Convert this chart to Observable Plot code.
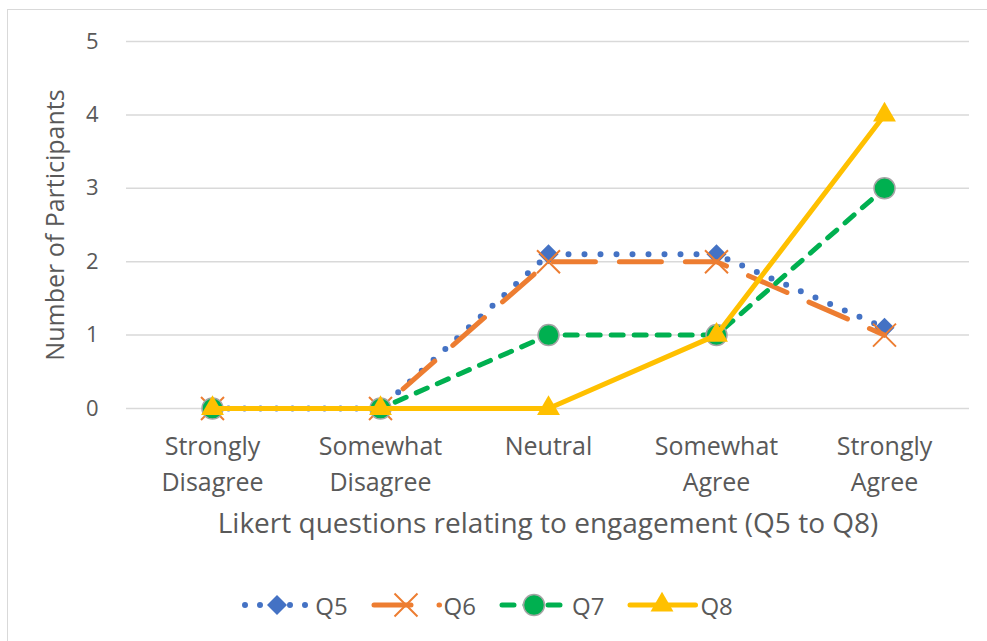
<!DOCTYPE html>
<html>
<head>
<meta charset="utf-8">
<script src="https://cdn.jsdelivr.net/npm/d3@7"></script>
<script src="https://cdn.jsdelivr.net/npm/@observablehq/plot@0.6"></script>
<style>
  html, body { margin: 0; padding: 0; background: #fff; width: 987px; height: 641px; overflow: hidden; }
  body { font-family: "Open Sans", "DejaVu Sans", sans-serif; color: #595959; position: relative; }
  #frame { position: absolute; left: 7px; top: 9px; width: 1000px; height: 700px; border: 1.5px solid #d9d9d9; box-sizing: border-box; pointer-events: none; }
  #chart { position: absolute; left: 0; top: 0; }
  #legend { position: absolute; left: 0; top: 585px; width: 987px; height: 40px; display: flex; justify-content: center; align-items: center; gap: 23px; font-size: 24px; padding-right: 12px; box-sizing: border-box; }
  .item { display: flex; align-items: center; gap: 2px; }
  .item svg { display: block; }
</style>
</head>
<body>
<div id="frame"></div>
<div id="chart"></div>
<div id="legend"></div>
<script>
const categories = ["Strongly Disagree", "Somewhat Disagree", "Neutral", "Somewhat Agree", "Strongly Agree"];
const tickLabels = ["Strongly\nDisagree", "Somewhat\nDisagree", "Neutral", "Somewhat\nAgree", "Strongly\nAgree"];
const yTicks = [0, 1, 2, 3, 4, 5];
const seriesNames = ["Q5", "Q6", "Q7", "Q8"];
const Q5 = [0, 0, 2.1, 2.1, 1.1];
const Q6 = [0, 0, 2, 2, 1];
const Q7 = [0, 0, 1, 1, 3];
const Q8 = [0, 0, 0, 1, 4];
const xTitle = "Likert questions relating to engagement (Q5 to Q8)";
const yTitle = "Number of Participants";

const styles = {
  Q5: {color: "#4472C4", width: 6, dash: "0 16", legendDash: "0 15", symbol: "diamond2", r: 9, fill: "#4472C4", stroke: "none", sw: 0},
  Q6: {color: "#ED7D31", width: 5, dash: "42 24", legendDash: "37 28", symbol: "times", r: 10.5, fill: "none", stroke: "#ED7D31", sw: 2},
  Q7: {color: "#00B050", width: 5, dash: "12 11", legendDash: "12 11", symbol: "circle", r: 10.5, fill: "#00B050", stroke: "#A5A5A5", sw: 1.5},
  Q8: {color: "#FFC000", width: 5, dash: null, legendDash: null, symbol: "triangle", r: 8.5, fill: "#FFC000", stroke: "none", sw: 0}
};
const values = {Q5, Q6, Q7, Q8};
const labelOf = new Map(categories.map((c, i) => [c, tickLabels[i]]));

const seriesMarks = seriesNames.flatMap(name => {
  const s = styles[name];
  const data = categories.map((c, i) => ({cat: c, value: values[name][i]}));
  return [
    Plot.line(data, {x: "cat", y: "value", stroke: s.color, strokeWidth: s.width,
      strokeDasharray: s.dash || undefined, strokeLinecap: "round", strokeLinejoin: "round"}),
    Plot.dot(data, {x: "cat", y: "value", symbol: s.symbol, r: s.r,
      fill: s.fill, stroke: s.stroke, strokeWidth: s.sw, fillOpacity: 1, strokeOpacity: 1})
  ];
});

const chart = Plot.plot({
  width: 987, height: 585,
  marginLeft: 126, marginRight: 18, marginTop: 41, marginBottom: 177,
  x: {type: "point", domain: categories, padding: 0.5, axis: null},
  y: {domain: [0, 5], axis: null},
  style: {fontFamily: "'Open Sans', sans-serif", color: "#595959", background: "transparent", overflow: "visible"},
  marks: [
    Plot.gridY(yTicks, {stroke: "#d9d9d9", strokeOpacity: 1, strokeWidth: 1.5}),
    Plot.axisY(yTicks, {tickSize: 0, tickPadding: 28, fontSize: 22, fill: "#595959", tickFormat: d => String(d), label: null}),
    Plot.axisX(categories, {tickSize: 0, tickPadding: 21, fontSize: 25, lineHeight: 1.44, fill: "#595959", tickFormat: d => labelOf.get(d), label: null}),
    Plot.text([xTitle], {frameAnchor: "bottom", dy: 124, fontSize: 28, fill: "#595959"}),
    Plot.text([yTitle], {frameAnchor: "left", dx: -71, rotate: -90, textAnchor: "middle", fontSize: 25, fill: "#595959"}),
    ...seriesMarks
  ]
});
document.getElementById("chart").append(chart);

// Legend
const legend = document.getElementById("legend");
const sym = {
  diamond2: d3.symbolDiamond2, times: d3.symbolTimes, circle: d3.symbolCircle, triangle: d3.symbolTriangle
};
seriesNames.forEach(name => {
  const s = styles[name];
  const w = 71, h = 30;
  const item = document.createElement("div");
  item.className = "item";
  const svg = d3.create("svg").attr("width", w).attr("height", h);
  svg.append("line").attr("x1", 3).attr("x2", 68.5).attr("y1", h / 2).attr("y2", h / 2)
    .attr("stroke", s.color).attr("stroke-width", s.width).attr("stroke-linecap", "round")
    .attr("stroke-dasharray", s.legendDash);
  const size = Math.PI * s.r * s.r;
  svg.append("path").attr("d", d3.symbol(sym[s.symbol], size)())
    .attr("transform", `translate(35,${h / 2})`)
    .attr("fill", s.fill).attr("stroke", s.stroke).attr("stroke-width", s.sw);
  item.append(svg.node());
  const t = document.createElement("span");
  t.textContent = name;
  item.append(t);
  legend.append(item);
});
</script>
</body>
</html>
